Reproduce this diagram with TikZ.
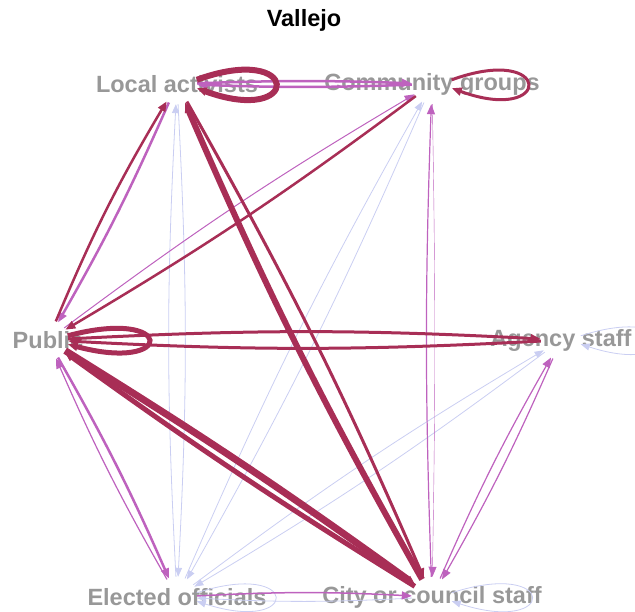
\documentclass[tikz,border=0pt]{standalone}
\usepackage{fontspec}
\setmainfont{Liberation Sans}
\usepackage{tikz}
\usetikzlibrary{arrows.meta,positioning}
\definecolor{crim}{RGB}{168,46,86}
\definecolor{orch}{RGB}{190,98,190}
\definecolor{lav}{RGB}{202,206,242}
\definecolor{lblgray}{RGB}{152,152,152}

\begin{document}
\begin{tikzpicture}[x=1pt,y=1pt,
  mynodev/.style={circle,minimum size=40pt,inner sep=0pt},
  mylabel/.style={text=lblgray,font=\bfseries\fontsize{23.5}{28}\selectfont,inner sep=0pt},
  myedger/.style={draw=crim,line width=#1,-{Triangle[length=10pt,width=8pt]}},
  myedgep/.style={draw=orch,line width=#1,-{Triangle[length=10pt,width=8pt]}},
  myedgel/.style={draw=lav,line width=#1,-{Triangle[length=9pt,width=7pt]}}
]
\useasboundingbox (0,0) rectangle (635,611);
\clip (0,0) rectangle (635,611);

\node[font=\bfseries\fontsize{23.5}{28}\selectfont] at (304,591) (title) {Vallejo};

% vertices
\node[mynodev] at (177,527) (LA) {};
\node[mynodev] at (432,527) (CG) {};
\node[mynodev] at (48,271) (P) {};
\node[mynodev] at (561,271) (AS) {};
\node[mynodev] at (177,14) (EO) {};
\node[mynodev] at (432,14) (CC) {};

\node[mylabel] at (LA) (LAt) {Local activists};
\node[mylabel] at (CG) (CGt) {Community groups};
\node[mylabel] at (P) (Pt) {Public};
\node[mylabel] at (AS) (ASt) {Agency staff};
\node[mylabel] at (EO) (EOt) {Elected officials};
\node[mylabel] at (CC) (CCt) {City or council staff};

% weak ties
\path
(LA) edge[myedgel=0.8, bend left=3] (EO)
(EO) edge[myedgel=0.8, bend left=3] (LA)
(CG) edge[myedgel=0.8, bend left=3] (EO)
(EO) edge[myedgel=0.8, bend left=3] (CG)
(AS) edge[myedgel=0.8, bend left=3] (EO)
(EO) edge[myedgel=0.8, bend left=3] (AS)
(CC) edge[myedgel=0.8, bend left=3] (EO);

\draw[myedgel=0.8] (EO.12) .. controls +(18:110) and +(-18:110) .. (EO.-12);
\draw[myedgel=0.8] (CC.12) .. controls +(18:112) and +(-18:112) .. (CC.-12);
\draw[myedgel=0.8] (AS.12) .. controls +(18:110) and +(-18:110) .. (AS.-12);

% medium ties
\path
(LA) edge[myedgep=2.5, bend left=2] (CG)
(CG) edge[myedgep=2.5, bend left=2] (LA)
(LA) edge[myedgep=2.5, bend left=3] (P)
(P) edge[myedgep=1, bend left=3] (CG)
(P) edge[myedgep=2.5, bend left=3] (EO)
(EO) edge[myedgep=1.2, bend left=3] (P)
(CC) edge[myedgep=1.2, bend left=2] (CG)
(CG) edge[myedgep=0.4, bend left=1] (CC)
(AS) edge[myedgep=1.2, bend left=3] (CC)
(CC) edge[myedgep=1.2, bend left=3] (AS)
(EO) edge[myedgep=1.5, bend left=3] (CC);

% strong ties
\path
(P) edge[myedger=2.5, bend left=4] (LA)
(CG) edge[myedger=2.5, bend left=3] (P)
(LA) edge[myedger=3, bend left=3] (CC)
(CC) edge[myedger=6, bend left=3] (LA)
(P) edge[myedger=3, bend left=3] (AS)
(AS) edge[myedger=3, bend left=3] (P)
(P) edge[myedger=7, bend left=2] (CC)
(CC) edge[myedger=5, bend left=2] (P);

\draw[myedger=6] (LA.12) .. controls +(20:112) and +(-20:112) .. (LA.-12);
\draw[myedger=3] (CG.12) .. controls +(20:108) and +(-20:108) .. (CG.-12);
\draw[myedger=5] (P.12) .. controls +(15:112) and +(-15:112) .. (P.-12);

\end{tikzpicture}
\end{document}
